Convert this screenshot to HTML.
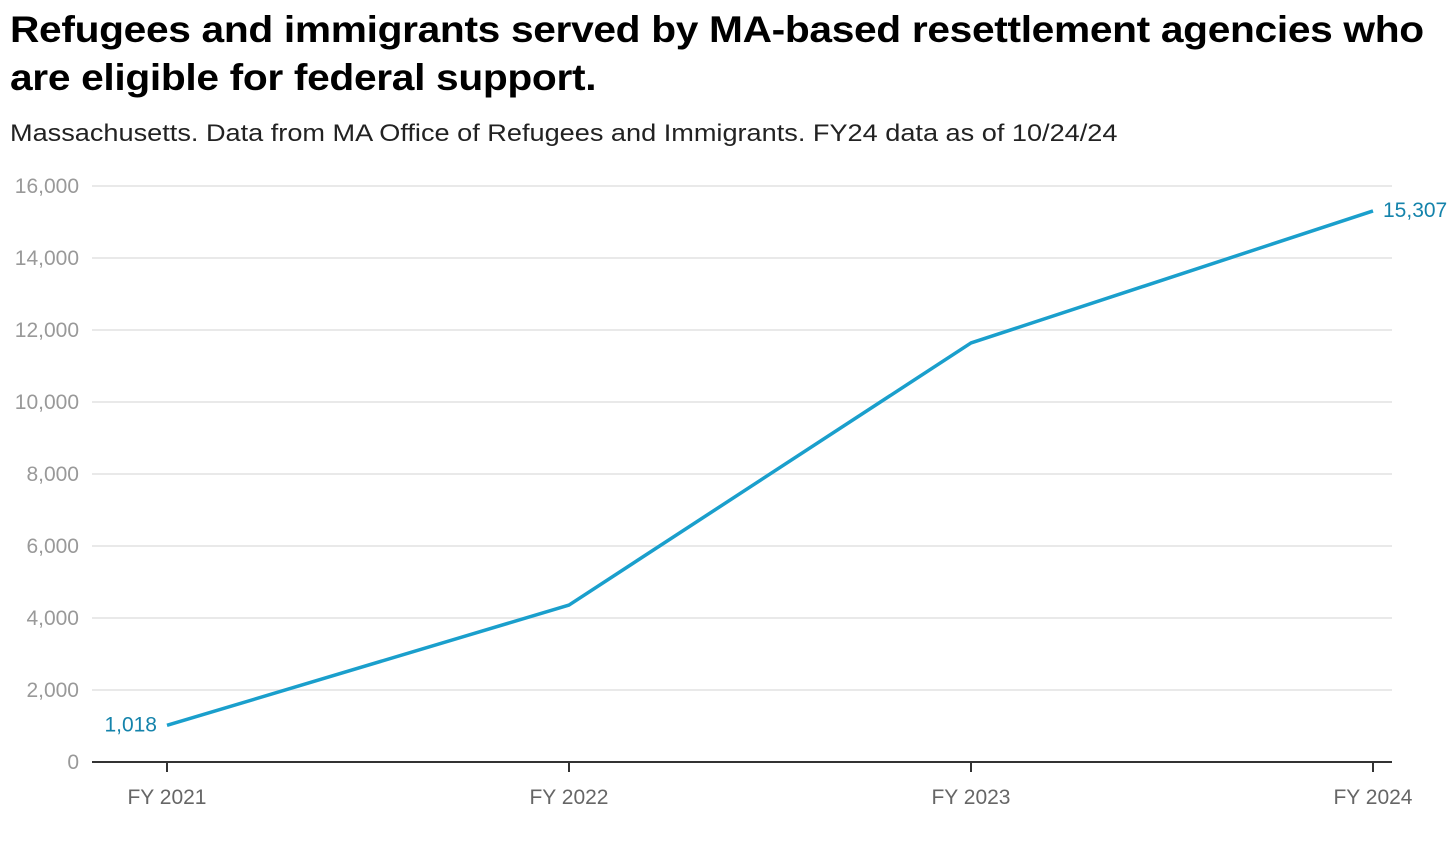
<!DOCTYPE html>
<html><head><meta charset="utf-8"><style>
body{margin:0;background:#fff;width:1456px;height:849px;overflow:hidden;font-family:"Liberation Sans",Arial,sans-serif}
h1{position:absolute;left:10px;top:6px;margin:0;font-size:37px;line-height:48px;font-weight:bold;color:#000;letter-spacing:-0.3px;transform:scaleX(1.1);transform-origin:0 0;white-space:nowrap}
.sub{position:absolute;left:10px;top:120px;font-size:24px;color:#222;transform:scaleX(1.13);transform-origin:0 0;white-space:nowrap}
svg{position:absolute;left:0;top:0}
</style></head><body>
<h1>Refugees and immigrants served by MA-based resettlement agencies who<br>are eligible for federal support.</h1>
<div class="sub">Massachusetts. Data from MA Office of Refugees and Immigrants. FY24 data as of 10/24/24</div>
<svg id="chart" width="1456" height="849"></svg>
<script>
const categories=["FY 2021","FY 2022","FY 2023","FY 2024"];
const values=[1018,4360,11640,15307];
const yTicks=[0,2000,4000,6000,8000,10000,12000,14000,16000];
const tickLabels=["0","2,000","4,000","6,000","8,000","10,000","12,000","14,000","16,000"];
const NS="http://www.w3.org/2000/svg";
const svg=document.getElementById('chart');
const x=i=>167+i*402;
const y=v=>762-v*0.036;
function el(t,a,txt){const e=document.createElementNS(NS,t);for(const k in a)e.setAttribute(k,a[k]);if(txt!=null)e.textContent=txt;svg.appendChild(e);return e;}
yTicks.forEach((t,i)=>{
  if(t>0){const g=el('line',{x1:92,x2:1392,y1:y(t),y2:y(t),stroke:'#e2e2e2','stroke-width':1.5});
  
  }
  const l=el('text',{x:79,y:y(t)+7,'text-anchor':'end','font-size':21,fill:'#999','font-family':'Liberation Sans, sans-serif'},tickLabels[i]);
  
  
});
const ax=el('line',{x1:92,x2:1392,y1:762,y2:762,stroke:'#333','stroke-width':2});


categories.forEach((c,i)=>{
  const tk=el('line',{x1:x(i),x2:x(i),y1:762,y2:772,stroke:'#333','stroke-width':2});
  
  
  const t=el('text',{x:x(i),y:804,'text-anchor':'middle','font-size':21,fill:'#666','font-family':'Liberation Sans, sans-serif'},c);
  
  
});
const p=el('polyline',{points:values.map((v,i)=>x(i)+','+y(v)).join(' '),fill:'none',stroke:'#1a9fcc','stroke-width':3.5,'stroke-linejoin':'round'});


const fmt=v=>v.toLocaleString('en-US');
const l0=el('text',{x:x(0)-10,y:y(values[0])+6,'text-anchor':'end','font-size':21,fill:'#1483ab','font-family':'Liberation Sans, sans-serif'},fmt(values[0]));


const n=values.length-1;
const l1=el('text',{x:x(n)+10,y:y(values[n])+6,'text-anchor':'start','font-size':21,fill:'#1483ab','font-family':'Liberation Sans, sans-serif'},fmt(values[n]));


</script>
</body></html>
